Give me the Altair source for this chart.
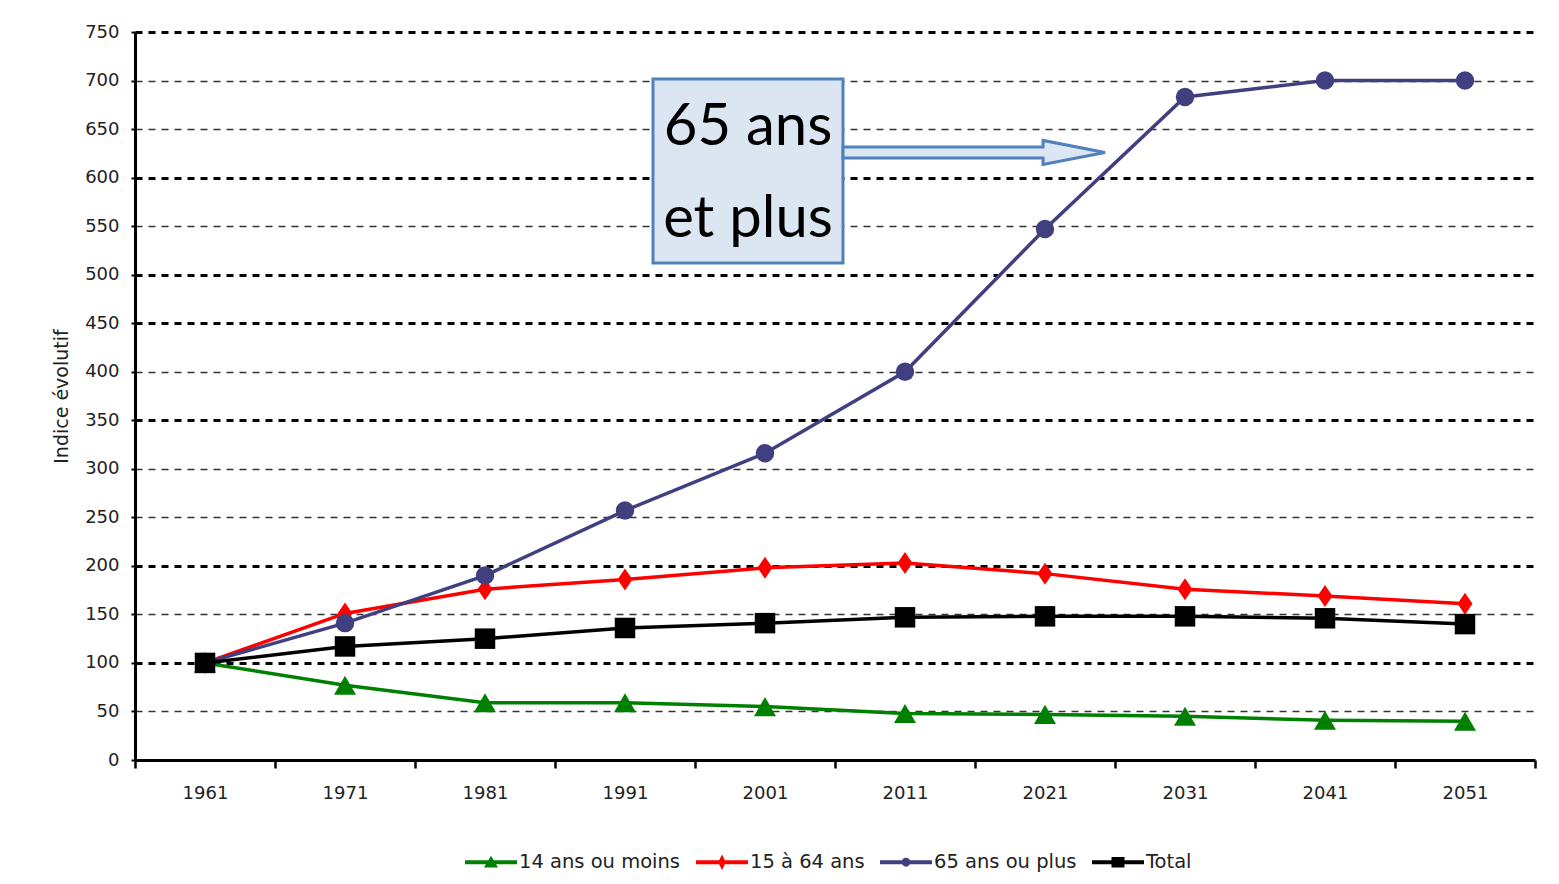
import altair as alt
import pandas as pd

# ---- data ----
annees = [1961, 1971, 1981, 1991, 2001, 2011, 2021, 2031, 2041, 2051]
series = ["14 ans ou moins", "15 à 64 ans", "65 ans ou plus", "Total"]
moins14 = [100, 77, 59, 59, 55, 48, 47, 45, 41, 40]
a15_64 = [100, 151, 176, 186, 198, 203, 192, 176, 169, 161]
plus65 = [100, 141, 190, 257, 316, 400, 547, 683, 700, 700]
total = [100, 117, 125, 136, 141, 147, 148, 148, 146, 140]
couleurs = ["#008000", "#ff0000", "#404080", "#000000"]
y_ticks = list(range(0, 751, 50))
x_ticks = list(range(1956, 2057, 5))
annotation = ["65 ans", "et plus"]

valeurs = [moins14, a15_64, plus65, total]
rows = []
for nom, vals in zip(series, valeurs):
    for a, v in zip(annees, vals):
        rows.append({"annee": a, "serie": nom, "valeur": v})
df = pd.DataFrame(rows)

FONT = "DejaVu Sans"


def cscale():
    return alt.Scale(domain=series, range=couleurs)


X = alt.X(
    "annee:Q",
    scale=alt.Scale(domain=[1956, 2056], nice=False, zero=False),
    axis=alt.Axis(
        values=x_ticks,
        format="d",
        labelExpr="datum.value % 10 == 1 ? datum.label : ''",
        tickSize={"condition": {"test": "datum.value % 10 == 6", "value": 8}, "value": 0},
        tickWidth=2.5,
        tickColor="black",
        domainColor="black",
        domainWidth=3,
        grid=False,
        labelFont=FONT,
        labelFontSize=18,
        labelColor="#222",
        labelPadding=24,
        labelOverlap=False,
        labelFlush=False,
        title=None,
    ),
)
Y = alt.Y(
    "valeur:Q",
    scale=alt.Scale(domain=[0, 750], nice=False),
    axis=alt.Axis(
        values=y_ticks,
        title="Indice évolutif",
        titleFont=FONT,
        titleFontSize=19,
        titleFontWeight="normal",
        titleColor="#222",
        titlePadding=13,
        tickSize=4,
        tickWidth=2,
        tickColor="black",
        domainColor="black",
        domainWidth=3,
        labelFont=FONT,
        labelFontSize=18,
        labelColor="#222",
        labelPadding=12,
        grid=True,
        gridDash=[7, 6],
        gridColor={
            "condition": {"test": "indexof([750,600,500,450,350,200,100], datum.value) >= 0", "value": "#000000"},
            "value": "#333333",
        },
        gridWidth={
            "condition": {"test": "indexof([750,600,500,450,350,200,100], datum.value) >= 0", "value": 3},
            "value": 1.5,
        },
    ),
)

base = alt.Chart(df)

lines = base.mark_line(strokeWidth=3.5).encode(
    x=X, y=Y, stroke=alt.Stroke("serie:N", scale=cscale(), legend=None)
)

marker_specs = [
    (series[0], "triangle-up", 484),
    (series[1], "M0,-1L0.68,0L0,1L-0.68,0Z", 484),
    (series[2], "circle", 340),
    (series[3], "square", 420),
]
markers = []
for nom, shape, size in marker_specs:
    markers.append(
        base.transform_filter(alt.datum.serie == nom)
        .mark_point(shape=shape, size=size, filled=True, opacity=1)
        .encode(x=X, y=Y, fill=alt.Fill("serie:N", scale=cscale(), legend=None))
    )

ligne = "M-1,-0.075H1V0.075H-1Z"
legend_paths = [
    ligne + "M0,-0.25L0.27,0.2L-0.27,0.2Z",
    ligne + "M0,-0.3L0.15,0L0,0.3L-0.15,0Z",
    ligne + "M-0.17,0A0.17,0.17 0 1,1 0.17,0A0.17,0.17 0 1,1 -0.17,0Z",
    ligne + "M-0.25,-0.2H0.25V0.2H-0.25Z",
]
leg = alt.Legend(
    title=None,
    orient="none",
    direction="horizontal",
    legendX=330,
    legendY=804,
    symbolSize=2704,
    symbolStrokeWidth=0,
    labelFont=FONT,
    labelFontSize=19.5,
    labelColor="#222",
    labelOffset=2,
    columnPadding=15,
    padding=0,
    labelLimit=400,
)
legend_layer = base.transform_filter("false").mark_point(filled=True, opacity=1).encode(
    color=alt.Color("serie:N", scale=cscale(), legend=leg),
    shape=alt.Shape("serie:N", scale=alt.Scale(domain=series, range=legend_paths), legend=leg),
)

one = pd.DataFrame({"k": [0]})
box = alt.Chart(one).mark_rect(fill="#dce6f2", stroke="#4f81bd", strokeWidth=3).encode(
    x=alt.datum(1993.0), x2=alt.datum(2006.57), y=alt.datum(701.6), y2=alt.datum(512.0)
)
arrow_path = "M-1,-0.042L0.527,-0.042L0.527,-0.092L1,0L0.527,0.092L0.527,0.042L-1,0.042Z"
arrow = alt.Chart(one).mark_point(
    shape=arrow_path, size=68644, filled=True, fill="#dce6f2", stroke="#4f81bd", strokeWidth=3, opacity=1
).encode(x=alt.datum(2015.93), y=alt.datum(625.9))
txt1 = alt.Chart(one).mark_text(
    text=annotation[0], font="Lato", fontSize=58, align="center", baseline="alphabetic", color="black"
).encode(x=alt.datum(1999.79), y=alt.datum(633.6))
txt2 = alt.Chart(one).mark_text(
    text=annotation[1], font="Lato", fontSize=58, align="center", baseline="alphabetic", color="black"
).encode(x=alt.datum(1999.79), y=alt.datum(538.8))

chart = alt.layer(legend_layer, lines, *markers, box, arrow, txt1, txt2).properties(
    width=1400,
    height=728,
    autosize=alt.AutoSizeParams(type="none"),
    padding={"left": 127, "top": 24, "right": 16, "bottom": 116},
    background="white",
).configure_view(stroke=None)

chart.save("out.html", embed_options={"renderer": "svg", "actions": False})
